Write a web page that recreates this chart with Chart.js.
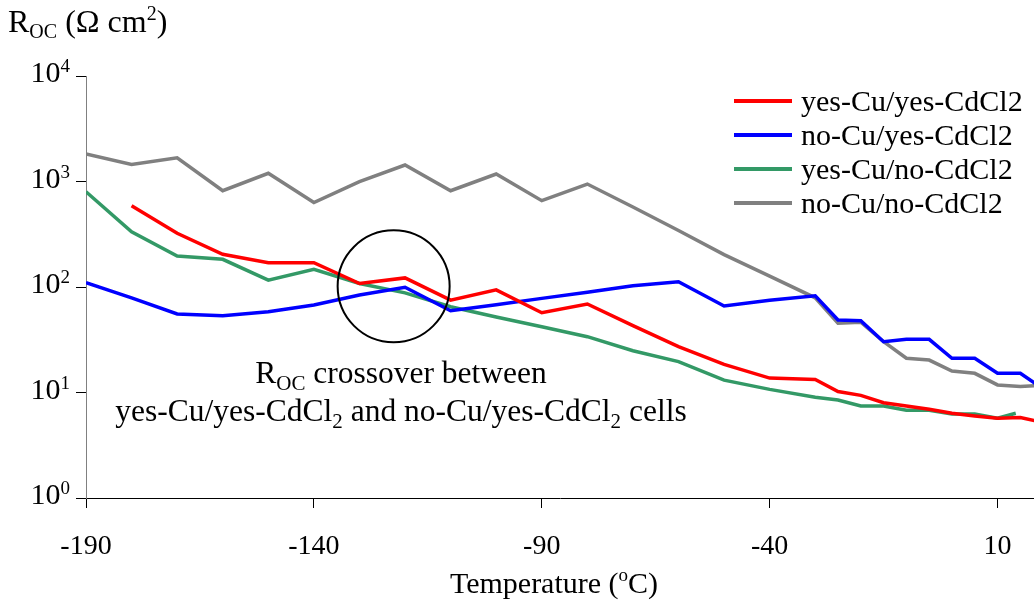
<!DOCTYPE html>
<html>
<head>
<meta charset="utf-8">
<script src="https://cdn.jsdelivr.net/npm/chart.js@4.4.0/dist/chart.umd.min.js"></script>
<style>
  html, body { margin: 0; padding: 0; background: #fff; }
  canvas { display: block; }
</style>
</head>
<body>
<canvas id="grafica" width="1034" height="600"></canvas>
<script>
// Temperatura (oC) y Roc (ohm cm2)
const temps = [-190, -180, -170, -160, -150, -140, -130, -120, -110, -100, -90, -80, -70, -60, -50, -40, -30, -25, -20, -15, -10, -5, 0, 5, 10, 15, 20];
const tempsVerde = [-190, -180, -170, -160, -150, -140, -130, -120, -110, -100, -90, -80, -70, -60, -50, -40, -30, -25, -20, -15, -10, -5, 0, 5, 10, 14];

const yesCuYesCd = [null, 590, 323, 204, 170, 170, 108, 122, 75, 94, 57, 69, 43, 27.2, 18.5, 13.7, 13.3, 10.2, 9.4, 8.0, 7.45, 6.93, 6.35, 6.0, 5.7, 5.8, 5.2];
const noCuYesCd  = [110, 79, 55.5, 53.5, 58.3, 67.5, 84, 99.4, 59.6, 68, 78, 89, 103, 112, 66, 75, 82.7, 48.7, 48, 30.3, 31.9, 31.9, 21.1, 21.1, 15.2, 15.2, 10.8];
const yesCuNoCd  = [800, 334, 197, 183, 116, 147, 108, 88, 65, 52, 42, 33.8, 24.9, 19.6, 13.1, 10.7, 9.0, 8.5, 7.45, 7.45, 6.8, 6.8, 6.26, 6.26, 5.7, 6.35];
const noCuNoCd   = [1820, 1450, 1680, 818, 1197, 632, 996, 1433, 818, 1177, 658, 946, 573, 343, 203, 127, 79, 45.3, 46.3, 30.3, 21.1, 20.3, 16, 15.2, 11.8, 11.4, 11.7];

const etiquetas = ['yes-Cu/yes-CdCl2', 'no-Cu/yes-CdCl2', 'yes-Cu/no-CdCl2', 'no-Cu/no-CdCl2'];
const colores = ['#ff0000', '#0000ff', '#339966', '#808080'];

const xTicks = [-190, -140, -90, -40, 10];
const yTicks = [1, 10, 100, 1000, 10000];

// centro del circulo de la anotacion (en unidades de datos)
const circuloT = -122.5;
const circuloR = 101.6;

const serif = '"Liberation Serif", "Times New Roman", serif';

function puntos(xs, ys) {
    return xs.map((t, i) => ({ x: t, y: ys[i] }));
}

// dibuja texto con sub/superindices: partes = [{t, s, dy}]
function texto(ctx, partes, x, y, align) {
    let ancho = 0;
    partes.forEach(p => {
        ctx.font = p.s + 'px ' + serif;
        p.w = ctx.measureText(p.t).width;
        ancho += p.w;
    });
    let cx = x;
    if (align === 'center') cx = x - ancho / 2;
    if (align === 'right') cx = x - ancho;
    ctx.textAlign = 'left';
    ctx.textBaseline = 'alphabetic';
    partes.forEach(p => {
        ctx.font = p.s + 'px ' + serif;
        ctx.fillText(p.t, cx, y + (p.dy || 0));
        cx += p.w;
    });
}

const dibujos = {
    id: 'dibujos',
    afterDraw(chart) {
        const ctx = chart.ctx;
        const sx = chart.scales.x;
        const sy = chart.scales.y;
        ctx.save();
        ctx.fillStyle = '#000';

        // etiquetas del eje y (10^n)
        yTicks.forEach(v => {
            const py = sy.getPixelForValue(v);
            texto(ctx, [{ t: '10', s: 30, dy: 6 }, { t: String(Math.round(Math.log10(v))), s: 19, dy: -4 }], 70, py, 'right');
        });

        // titulo del eje y
        texto(ctx, [
            { t: 'R', s: 32 }, { t: 'OC', s: 20, dy: 6 }, { t: ' (\u03A9 cm', s: 32 },
            { t: '2', s: 20, dy: -12 }, { t: ')', s: 32 }
        ], 8, 32, 'left');

        // titulo del eje x
        texto(ctx, [{ t: 'Temperature (', s: 30 }, { t: 'o', s: 19, dy: -12 }, { t: 'C)', s: 30 }], 554, 593, 'center');

        // anotacion
        texto(ctx, [{ t: 'R', s: 31.5 }, { t: 'OC', s: 21, dy: 7 }, { t: ' crossover between', s: 31.5 }], 401, 383, 'center');
        texto(ctx, [
            { t: 'yes-Cu/yes-CdCl', s: 31.5 }, { t: '2', s: 21, dy: 7 },
            { t: ' and no-Cu/yes-CdCl', s: 31.5 }, { t: '2', s: 21, dy: 7 }, { t: ' cells', s: 31.5 }
        ], 401, 421, 'center');

        // circulo
        ctx.beginPath();
        ctx.arc(sx.getPixelForValue(circuloT), sy.getPixelForValue(circuloR), 56, 0, Math.PI * 2);
        ctx.lineWidth = 2;
        ctx.strokeStyle = '#000';
        ctx.stroke();

        // leyenda
        chart.data.datasets.forEach((ds, i) => {
            const ly = 101 + i * 34;
            ctx.beginPath();
            ctx.moveTo(734, ly);
            ctx.lineTo(792, ly);
            ctx.lineWidth = 4;
            ctx.strokeStyle = ds.borderColor;
            ctx.stroke();
            ctx.fillStyle = '#000';
            texto(ctx, [{ t: ds.label, s: 30 }], 801, ly + 10, 'left');
        });

        ctx.restore();
    }
};

const ctx = document.getElementById('grafica').getContext('2d');

const series = [
    puntos(temps, yesCuYesCd),
    puntos(temps, noCuYesCd),
    puntos(tempsVerde, yesCuNoCd),
    puntos(temps, noCuNoCd)
];

const chart = new Chart(ctx, {
    type: 'line',
    data: {
        datasets: series.map((d, i) => ({
            label: etiquetas[i],
            data: d,
            borderColor: colores[i],
            backgroundColor: colores[i],
            borderWidth: 3.5,
            pointRadius: 0,
            tension: 0,
            spanGaps: false
        }))
    },
    options: {
        responsive: false,
        animation: false,
        layout: { padding: { top: 76, right: 0, left: 0, bottom: 0 } },
        plugins: {
            legend: { display: false },
            tooltip: { enabled: false }
        },
        scales: {
            x: {
                type: 'linear',
                min: -190,
                max: 18,
                afterBuildTicks: s => { s.ticks = xTicks.map(v => ({ value: v })); },
                afterFit: s => { s.height = 102; },
                ticks: {
                    color: '#000',
                    padding: 22,
                    font: { family: serif, size: 28 },
                    callback: v => String(v)
                },
                grid: { drawOnChartArea: false, drawTicks: true, tickLength: 10, color: '#000' },
                border: { color: '#000', width: 1 }
            },
            y: {
                type: 'logarithmic',
                min: 1,
                max: 10000,
                afterBuildTicks: s => { s.ticks = yTicks.map(v => ({ value: v })); },
                afterFit: s => { s.width = 86; },
                ticks: { display: false },
                grid: { drawOnChartArea: false, drawTicks: true, tickLength: 10, color: '#000' },
                border: { color: '#808080', width: 1 }
            }
        }
    },
    plugins: [dibujos]
});
</script>
</body>
</html>
